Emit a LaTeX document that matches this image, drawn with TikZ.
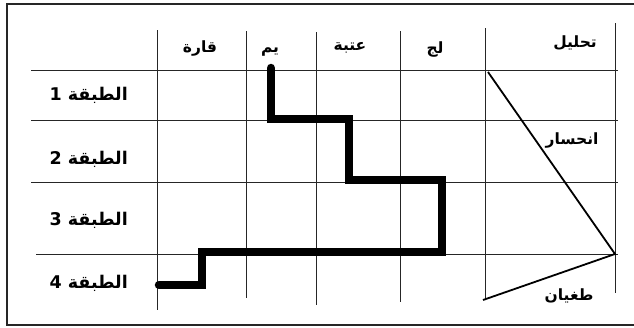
\documentclass[tikz,border=0pt]{standalone}
\usepackage{fontspec}
\TeXXeTstate=1
\newfontfamily\arabicfont[Script=Arabic]{DejaVu Sans}
\begin{document}
\begin{tikzpicture}[x=1pt,y=-1pt,
  gridline/.style={draw=black!85,line width=0.9pt},
  diag/.style={draw=black,line width=1.8pt},
  route/.style={draw=black,line width=8.5pt,line cap=round,line join=miter},
  head/.style={inner sep=0pt,anchor=base,font=\arabicfont\bfseries\fontsize{15.5}{17}\selectfont},
  rowlab/.style={inner sep=0pt,anchor=base east,font=\arabicfont\bfseries\fontsize{17.5}{19}\selectfont},
  side/.style={inner sep=0pt,anchor=base,font=\arabicfont\bfseries\fontsize{15.5}{17}\selectfont}]
\useasboundingbox (0,0) rectangle (634,327);
\clip (0,0) rectangle (634,327);
% outer frame
\draw[black!85,line width=1.6pt] (7,4) rectangle (650,325);
% horizontal grid lines
\draw[gridline] (31,70) -- (618,70);
\draw[gridline] (31,120) -- (618,120);
\draw[gridline] (31,182) -- (618,182);
\draw[gridline] (36,254) -- (618,254);
% vertical grid lines
\draw[gridline] (157,30) -- (157,310);
\draw[gridline] (246,31) -- (246,298);
\draw[gridline] (316,32) -- (316,305);
\draw[gridline] (400,31) -- (400,302);
\draw[gridline] (485,28) -- (485,300);
\draw[gridline] (615,23) -- (615,293);
% route
\coordinate (r0) at (271,68);
\coordinate (r1) at (271,119);
\coordinate (r2) at (349,119);
\coordinate (r3) at (349,180);
\coordinate (r4) at (442,180);
\coordinate (r5) at (442,252);
\coordinate (r6) at (202,252);
\coordinate (r7) at (202,285);
\coordinate (r8) at (159,285);
\draw[route] (r0) -- (r1) -- (r2) -- (r3) -- (r4) -- (r5) -- (r6) -- (r7) -- (r8);
% diagonals
\coordinate (dtop) at (488,72);
\coordinate (dapex) at (615,254);
\coordinate (dbot) at (483,300);
\draw[diag] (dtop) -- (dapex) -- (dbot);
% headers
\node[head] (h1) at (200,52) {\beginR قارة\endR};
\node[head] (h2) at (270,52) {\beginR يم\endR};
\node[head] (h3) at (350,50) {\beginR عتبة\endR};
\node[head] (h4) at (435,53) {\beginR لج\endR};
\node[head] (h5) at (575,47) {\beginR تحليل\endR};
% row labels
\node[rowlab] (l1) at (128,100) {\beginR الطبقة 1\endR};
\node[rowlab] (l2) at (128,164) {\beginR الطبقة 2\endR};
\node[rowlab] (l3) at (128,225) {\beginR الطبقة 3\endR};
\node[rowlab] (l4) at (128,288) {\beginR الطبقة 4\endR};
% side labels
\node[side] (s1) at (572,144) {\beginR انحسار\endR};
\node[side] (s2) at (569,300) {\beginR طغيان\endR};
\end{tikzpicture}
\end{document}
